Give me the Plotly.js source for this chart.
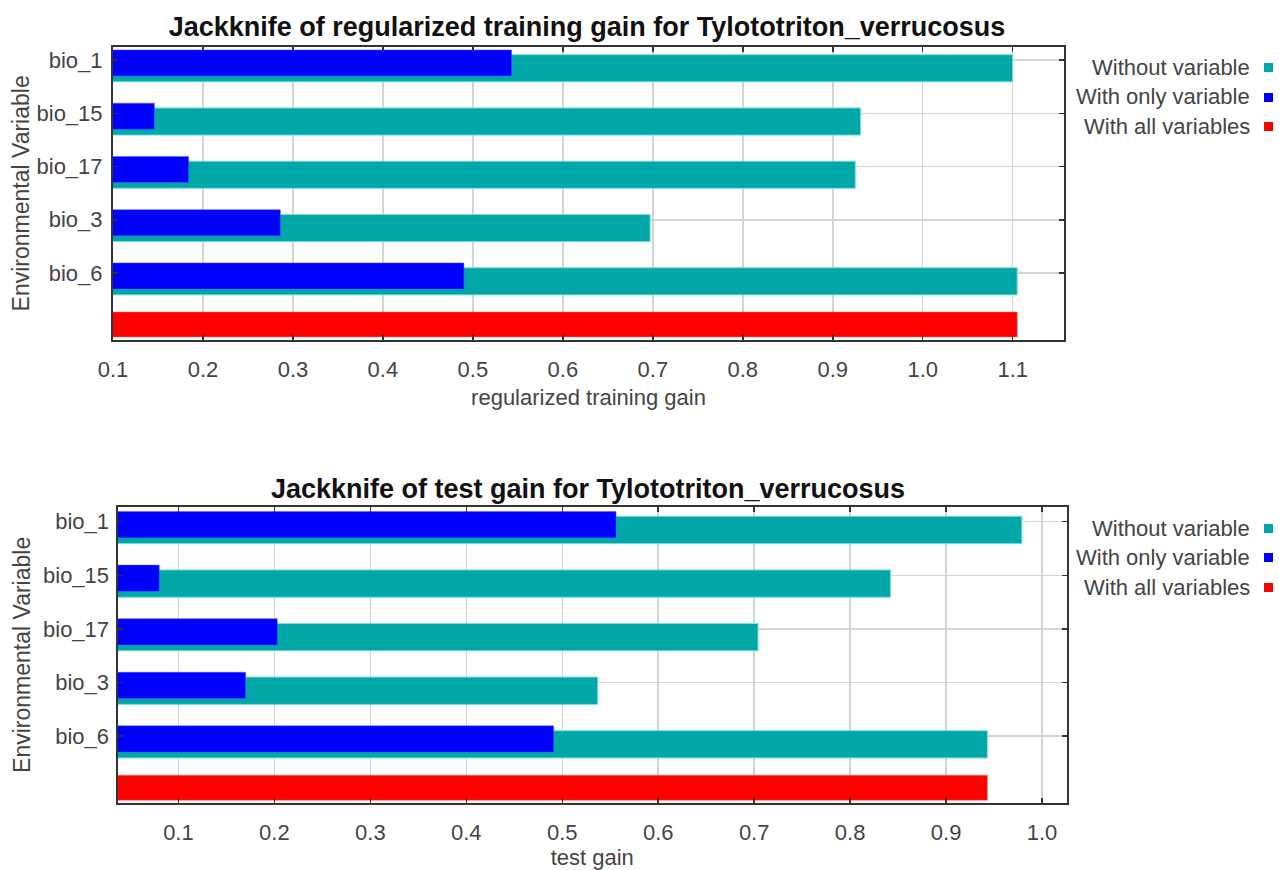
<!DOCTYPE html>
<html>
<head>
<meta charset="utf-8">
<script src="https://cdn.plot.ly/plotly-3.0.1.min.js"></script>
<style>html,body{margin:0;padding:0;background:#fff}#chart{width:1279px;height:870px}</style>
</head>
<body>
<div id="chart"></div>
<script>
// ---- data ----
const species = "Tylototriton_verrucosus";
const variables = ["bio_1", "bio_15", "bio_17", "bio_3", "bio_6"];
const allLabel = "all";
// regularized training gain
const trainWithout = [1.100, 0.931, 0.925, 0.697, 1.105];
const trainOnly    = [0.543, 0.146, 0.184, 0.286, 0.490];
const trainAll     = 1.105;
// test gain
const testWithout  = [0.979, 0.842, 0.704, 0.537, 0.943];
const testOnly     = [0.556, 0.080, 0.203, 0.170, 0.491];
const testAll      = 0.943;
const xTicksTop    = [0.1, 0.2, 0.3, 0.4, 0.5, 0.6, 0.7, 0.8, 0.9, 1.0, 1.1];
const xTicksBottom = [0.1, 0.2, 0.3, 0.4, 0.5, 0.6, 0.7, 0.8, 0.9, 1.0];
const legendLabels = ["Without variable", "With only variable", "With all variables"];

// ---- style ----
const TEAL = "#00a7a7", BLUE = "#0000ff", RED = "#ff0000";
const FONT = "Liberation Sans, Arial, sans-serif";
const cats = variables.concat([allLabel]);
const W = 1279, H = 870;
const px = v => v / W, py = v => 1 - v / H;

function barTraces(without, only, all, xa, ya) {
  return [
    {type: "bar", orientation: "h", x: without, y: variables, xaxis: xa, yaxis: ya,
     marker: {color: TEAL, line: {color: "#7fdede", width: 1}}, width: 0.51, offset: -0.10,
     name: legendLabels[0], showlegend: false, hoverinfo: "x+y"},
    {type: "bar", orientation: "h", x: only, y: variables, xaxis: xa, yaxis: ya,
     marker: {color: BLUE, line: {color: "#5555ff", width: 0.5}}, width: 0.49, offset: -0.19,
     name: legendLabels[1], showlegend: false, hoverinfo: "x+y"},
    {type: "bar", orientation: "h", x: [all], y: [allLabel], xaxis: xa, yaxis: ya,
     marker: {color: RED, line: {color: "#ff7070", width: 0.5}}, width: 0.47, offset: -0.27,
     name: legendLabels[2], showlegend: false, hoverinfo: "x+y"}
  ];
}

const data = barTraces(trainWithout, trainOnly, trainAll, "x", "y")
  .concat(barTraces(testWithout, testOnly, testAll, "x2", "y2"));

const tickFont = {family: FONT, size: 22, color: "#444"};
function xaxis(domain, range, ticks, title) {
  return {domain: domain, range: range, tickvals: ticks, ticktext: ticks.map(v => v.toFixed(1)),
    showgrid: true, gridcolor: "#d4d4d4", gridwidth: 1.5, zeroline: false,
    showline: true, linecolor: "#333", linewidth: 2, mirror: "ticks",
    ticks: "inside", ticklen: 5, tickwidth: 1.5, tickcolor: "#333",
    tickfont: tickFont, ticklabelstandoff: 9, fixedrange: true,
    title: {text: title, font: {family: FONT, size: 22, color: "#444"}, standoff: 8}};
}
function yaxis(domain, range, anchor, standoff, titleStandoff) {
  return {domain: domain, range: range, type: "category", categoryorder: "array", categoryarray: cats,
    tickvals: variables, ticktext: variables,
    showgrid: true, gridcolor: "#d4d4d4", gridwidth: 1.5, zeroline: false,
    showline: true, linecolor: "#333", linewidth: 2, mirror: "ticks",
    ticks: "inside", ticklen: 5, tickwidth: 1.5, tickcolor: "#333",
    tickfont: tickFont, ticklabelstandoff: standoff, fixedrange: true, anchor: anchor,
    title: {text: "Environmental Variable", font: {family: FONT, size: 23, color: "#444"}, standoff: titleStandoff}};
}

const annotations = [];
const shapes = [];
function legend(rowsY) {
  const colors = [TEAL, BLUE, RED];
  rowsY.forEach((yv, i) => {
    annotations.push({xref: "paper", yref: "paper", x: px(1252), y: py(yv), xanchor: "right", yanchor: "middle",
      text: legendLabels[i], showarrow: false, font: {family: FONT, size: 22, color: "#444"}});
    shapes.push({type: "rect", xref: "paper", yref: "paper", x0: px(1264), x1: px(1273),
      y0: py(yv + 5), y1: py(yv - 4), fillcolor: colors[i], line: {width: 0}});
  });
}
legend([67, 97, 126]);
legend([528, 557, 587]);

annotations.push({xref: "paper", yref: "paper", x: px(588), y: py(489), xanchor: "center", yanchor: "middle",
  text: "<b>Jackknife of test gain for " + species + "</b>", showarrow: false,
  font: {family: FONT, size: 27, color: "#111"}});

const layout = {
  width: W, height: H, margin: {l: 0, r: 0, t: 0, b: 0}, paper_bgcolor: "#fff", plot_bgcolor: "#fff",
  barmode: "overlay", showlegend: false,
  title: {text: "<b>Jackknife of regularized training gain for " + species + "</b>",
    font: {family: FONT, size: 27, color: "#111"},
    x: px(587), xanchor: "center", y: py(27), yanchor: "middle", xref: "paper", yref: "paper"},
  xaxis: xaxis([px(113), px(1064)], [0.1, 1.157], xTicksTop, "regularized training gain"),
  yaxis: yaxis([py(340), py(46.7)], [5.257, -0.25], "x", 4, 0),
  xaxis2: Object.assign(xaxis([px(117.5), px(1067)], [0.0365, 1.026], xTicksBottom, "test gain"), {anchor: "y2"}),
  yaxis2: yaxis([py(803), py(506.7)], [5.25, -0.28], "x2", 2, 6),
  annotations: annotations, shapes: shapes
};
layout.xaxis.anchor = "y";

Plotly.newPlot("chart", data, layout, {displayModeBar: false, staticPlot: true});
</script>
</body>
</html>
